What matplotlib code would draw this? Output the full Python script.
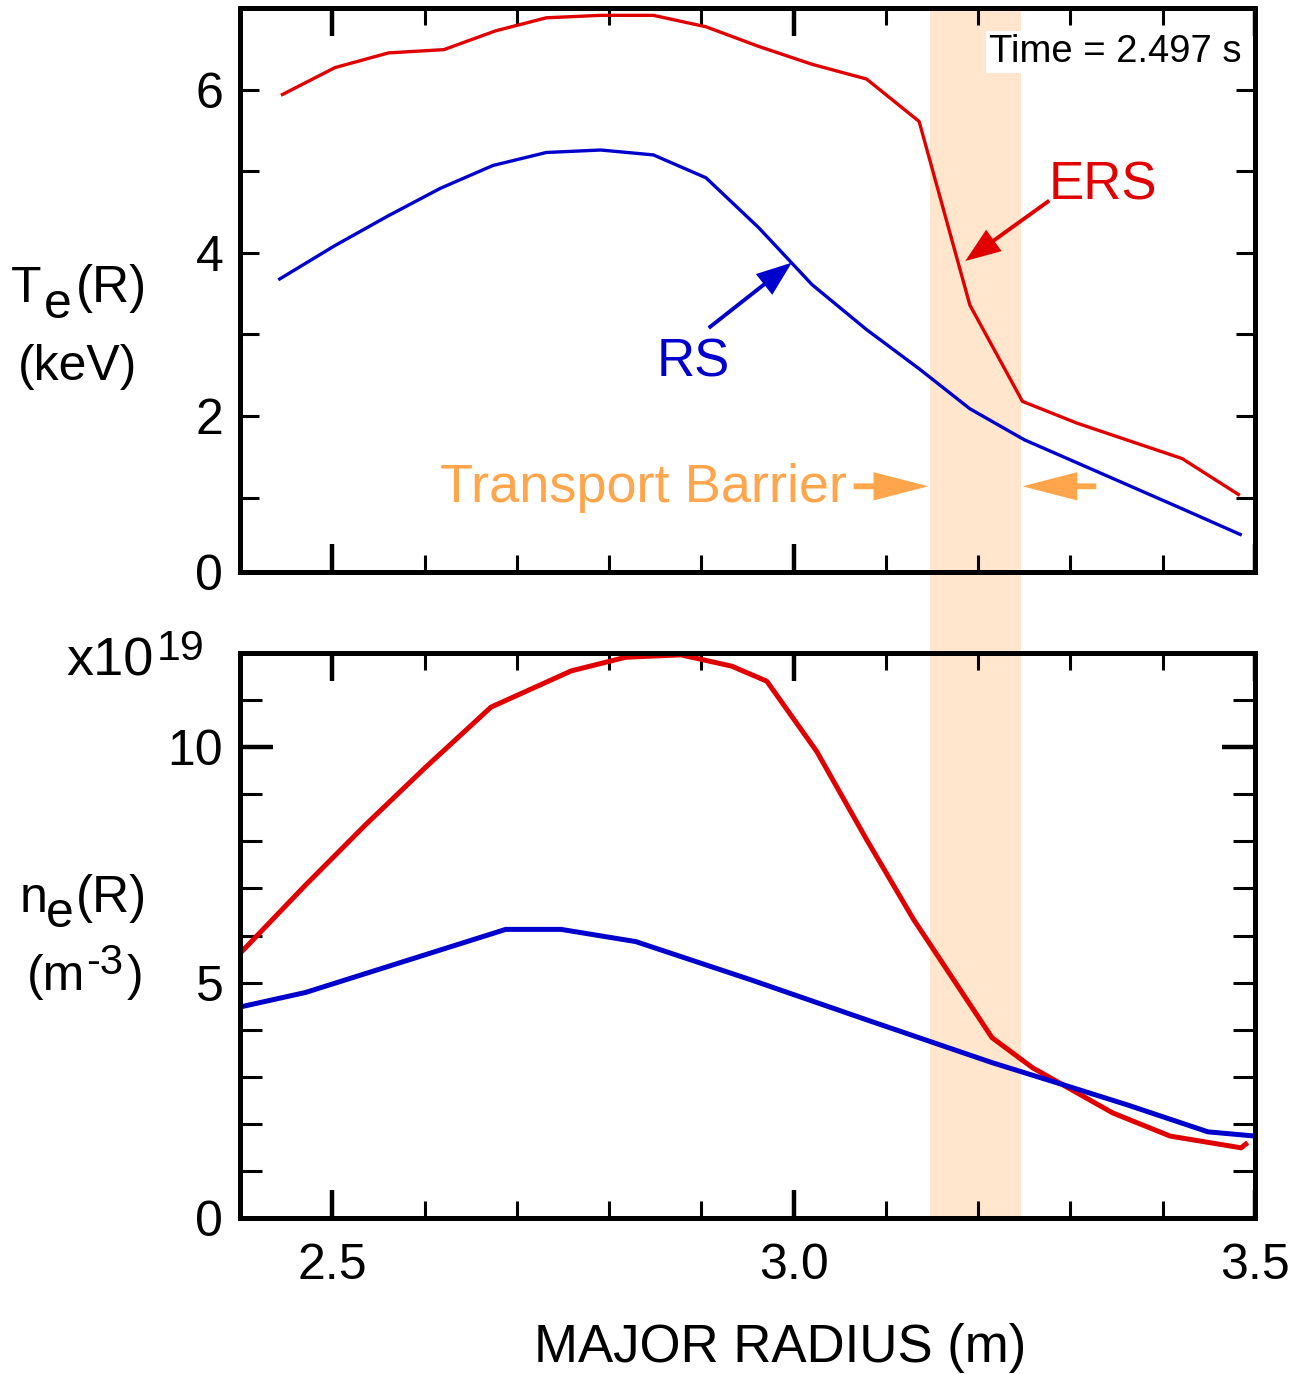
import matplotlib
matplotlib.use("Agg")
import matplotlib.pyplot as plt
import matplotlib.transforms as mtransforms
from matplotlib.patches import Rectangle
from matplotlib.ticker import FixedLocator, FixedFormatter, MultipleLocator

plt.rcParams['font.family'] = ['Liberation Sans', 'DejaVu Sans']

W, H = 1299, 1374

# electron temperature profiles (keV)
r_te_ers = [2.446, 2.503, 2.561, 2.621, 2.677, 2.732, 2.791, 2.848, 2.905, 2.962,
            3.020, 3.079, 3.136, 3.191, 3.248, 3.308, 3.421, 3.482]
te_ers = [5.94, 6.27, 6.45, 6.49, 6.72, 6.88, 6.91, 6.91, 6.77, 6.53,
          6.31, 6.13, 5.61, 3.36, 2.18, 1.91, 1.48, 1.04]
r_te_rs = [2.443, 2.503, 2.560, 2.617, 2.674, 2.732, 2.791, 2.848, 2.905, 2.962,
           3.020, 3.079, 3.136, 3.191, 3.250, 3.420, 3.484]
te_rs = [3.68, 4.09, 4.45, 4.79, 5.07, 5.23, 5.26, 5.20, 4.92, 4.31,
         3.61, 3.06, 2.58, 2.09, 1.71, 0.87, 0.55]

# electron density profiles (1e19 m^-3)
r_ne_ers = [2.402, 2.470, 2.536, 2.601, 2.672, 2.759, 2.818, 2.878, 2.933, 2.971,
            3.025, 3.079, 3.130, 3.215, 3.259, 3.346, 3.408, 3.485, 3.490]
ne_ers = [5.66, 7.05, 8.35, 9.57, 10.85, 11.62, 11.91, 11.96, 11.72, 11.40,
          9.91, 8.04, 6.34, 3.83, 3.19, 2.23, 1.74, 1.49, 1.57]
r_ne_rs = [2.402, 2.471, 2.688, 2.748, 2.829, 2.955, 3.079, 3.215, 3.302, 3.362,
           3.449, 3.500]
ne_rs = [4.49, 4.79, 6.13, 6.13, 5.87, 5.05, 4.21, 3.30, 2.77, 2.40, 1.83, 1.74]

barrier = (3.148, 3.246)

RED = '#e00000'
BLUE = '#0000cc'
ORANGE = '#ffa64d'
BAND = '#ffe6cc'


def fx(px):
    return px / W


def fy(py):
    return 1 - py / H


def arrow(ax, tail, head, color, lw, hl, hw):
    ax.annotate('', xy=head, xytext=tail,
                arrowprops=dict(arrowstyle='-|>,head_length=%g,head_width=%g' % (hl, hw),
                                mutation_scale=10, color=color, lw=lw,
                                shrinkA=0, shrinkB=0, capstyle='butt',
                                joinstyle='miter'))


fig = plt.figure(figsize=(W / 100, H / 100), dpi=100)
ax1 = fig.add_axes([fx(240), fy(572), fx(1255) - fx(240), fy(8) - fy(572)])
ax2 = fig.add_axes([fx(240), fy(1218), fx(1255) - fx(240), fy(653) - fy(1218)])

for ax in (ax1, ax2):
    ax.set_facecolor('none')
    ax.set_xlim(2.4, 3.5)
    for s in ax.spines.values():
        s.set_linewidth(3.6)
    ax.xaxis.set_major_locator(FixedLocator([2.5, 3.0, 3.5]))
    ax.xaxis.set_minor_locator(MultipleLocator(0.1))
    ax.tick_params(axis='x', which='major', direction='in', top=True, bottom=True,
                   length=20, width=3.2, labelsize=36, pad=18)
    ax.tick_params(axis='x', which='minor', direction='in', top=True, bottom=True,
                   length=12, width=2.2)

# transport barrier band running through both panels
band = Rectangle((barrier[0], fy(1218)), barrier[1] - barrier[0], fy(10) - fy(1218),
                 transform=mtransforms.blended_transform_factory(ax1.transData, fig.transFigure),
                 facecolor=BAND, edgecolor='none', zorder=-1)
fig.patches.append(band)

# top panel: Te
ax1.plot(r_te_ers, te_ers, color=RED, lw=2.4)
ax1.plot(r_te_rs, te_rs, color=BLUE, lw=2.4)
ax1.set_ylim(0.09, 7.0)
ax1.yaxis.set_major_locator(FixedLocator([0.09, 2, 4, 6]))
ax1.yaxis.set_major_formatter(FixedFormatter(['0', '2', '4', '6']))
ax1.yaxis.set_minor_locator(FixedLocator([1, 3, 5]))
ax1.tick_params(axis='y', which='both', direction='in', left=True, right=True,
                length=14, width=2.2, labelsize=36, pad=12)
ax1.tick_params(axis='x', labelbottom=False)

ax1.text(3.485, 6.34, 'Time = 2.497 s', ha='right', va='baseline', fontsize=27.5,
         bbox=dict(facecolor='white', edgecolor='none', pad=2), zorder=5)

ax1.text(3.276, 4.65, 'ERS', color=RED, fontsize=38, ha='left', va='baseline')
arrow(ax1, (3.277, 4.64), (3.186, 3.90), RED, 2.8, 2.0, 0.75)
ax1.text(2.851, 2.49, 'RS', color=BLUE, fontsize=38, ha='left', va='baseline')
arrow(ax1, (2.908, 3.08), (2.998, 3.88), BLUE, 2.8, 2.0, 0.75)

ax1.text(3.058, 0.945, 'Transport Barrier', color=ORANGE, fontsize=39,
         ha='right', va='baseline')
arrow(ax1, (3.065, 1.14), (3.146, 1.14), ORANGE, 4.2, 2.9, 0.75)
arrow(ax1, (3.328, 1.14), (3.248, 1.14), ORANGE, 4.2, 2.9, 0.75)

# bottom panel: ne
ax2.plot(r_ne_ers, ne_ers, color=RED, lw=3.6)
ax2.plot(r_ne_rs, ne_rs, color=BLUE, lw=3.6)
ax2.set_ylim(0, 12)
ax2.yaxis.set_major_locator(FixedLocator([0, 5, 10]))
ax2.yaxis.set_minor_locator(FixedLocator([1, 2, 3, 4, 6, 7, 8, 9, 11]))
ax2.tick_params(axis='y', which='both', direction='in', left=True, right=True,
                length=16, width=2.2, labelsize=36, pad=12)
tick10 = ax2.yaxis.get_major_ticks()[2]
tick10.tick1line.set_markersize(24)
tick10.tick2line.set_markersize(24)
tick10.tick1line.set_markeredgewidth(3.2)
tick10.tick2line.set_markeredgewidth(3.2)

fig.text(fx(780), fy(1362), 'MAJOR RADIUS (m)', fontsize=38, ha='center', va='baseline')

# panel labels with enlarged subscripts
fig.text(fx(11), fy(302), 'T', fontsize=36, va='baseline')
fig.text(fx(44), fy(318), 'e', fontsize=36, va='baseline')
fig.text(fx(76), fy(302), '(R)', fontsize=37, va='baseline')
fig.text(fx(18), fy(380), '(keV)', fontsize=36, va='baseline')

fig.text(fx(20), fy(912), 'n', fontsize=36, va='baseline')
fig.text(fx(46), fy(927), 'e', fontsize=36, va='baseline')
fig.text(fx(76), fy(912), '(R)', fontsize=37, va='baseline')
fig.text(fx(27), fy(990), '(m', fontsize=36, va='baseline')
fig.text(fx(86), fy(974), '-3', fontsize=30, va='baseline')
fig.text(fx(127), fy(990), ')', fontsize=36, va='baseline')

fig.text(fx(66), fy(676), 'x10', fontsize=39, va='baseline')
fig.text(fx(157), fy(660), '19', fontsize=31, va='baseline')

fig.savefig('out.png', dpi=100)
